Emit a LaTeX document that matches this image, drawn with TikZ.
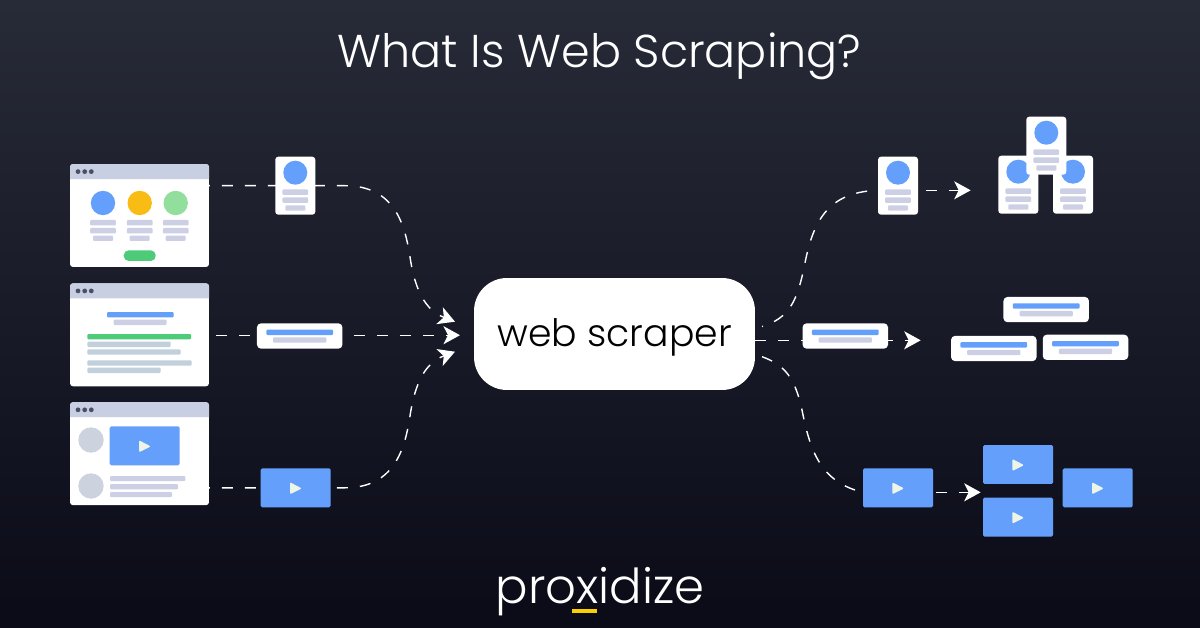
\documentclass[tikz,border=0pt]{standalone}
\usepackage{fontspec}
\setmainfont{Poppins}
\newfontfamily\lightfont{Poppins Light}
\usetikzlibrary{arrows.meta,backgrounds}
\definecolor{bgtop}{HTML}{272A37}
\definecolor{bgbottom}{HTML}{0B0B18}
\definecolor{webblue}{HTML}{64A0FB}
\definecolor{webyellow}{HTML}{F9BC15}
\definecolor{webgreen}{HTML}{4ECB78}
\definecolor{palegreen}{HTML}{92DE9C}
\definecolor{barblue}{HTML}{C9CFE2}
\definecolor{bargrey}{HTML}{CDD0E4}
\definecolor{linegrey}{HTML}{C1D0DB}
\definecolor{avatargrey}{HTML}{CDD3DE}
\definecolor{dotgrey}{HTML}{4A4F66}
\definecolor{playwhite}{HTML}{EEF5E6}
\definecolor{logoyellow}{HTML}{FCD000}

\begin{document}
\begin{tikzpicture}[x=0.02cm,y=-0.02cm]
\tikzset{webwindow/.style={
		inner sep=0pt,
		outer sep=0pt,
		minimum width=2.78cm,
		minimum height=2.06cm,
		fill=white,
		rounded corners=0.06cm
	},
	profilecard/.style={webwindow,minimum width=0.8cm,minimum height=1.16cm},
	textcard/.style={webwindow,minimum width=1.71cm,minimum height=0.506cm,rounded corners=0.08cm},
	videocard/.style={webwindow,minimum width=1.4cm,minimum height=0.78cm,fill=webblue,rounded corners=0.03cm},
	hubbox/.style={webwindow,minimum width=5.62cm,minimum height=2.24cm,rounded corners=0.66cm},
	bar/.style={rounded corners=0.02cm},
	flow/.style={draw=white,line width=0.028cm,dash pattern=on 0.22cm off 0.24cm},
	flowtip/.style={flow,-{Stealth[length=0.33cm,width=0.36cm,inset=0.09cm]}},
	profilebits/.pic={
		\fill[webblue] (0,-13) circle (12);
		\fill[bargrey,bar] (-12.9,3.8) rectangle (12.9,9.2);
		\fill[bargrey,bar] (-12.9,11.8) rectangle (12.9,17.2);
		\fill[bargrey,bar] (-10,19.6) rectangle (10,25);
	},
	textbits/.pic={
		\fill[webblue,bar] (-33.4,-6.3) rectangle (33.4,-1);
		\fill[bargrey,bar] (-26.6,1.3) rectangle (26.6,6.7);
	},
	playbits/.pic={
		\fill[playwhite,draw=playwhite,line width=0.03cm,line join=round] (-4.8,-4.2) -- (4.4,0.6) -- (-4.8,5.2) -- cycle;
	},
	winbits/.pic={
		\fill[barblue] (0,15) [rounded corners=0.06cm] -- (0,0) -- (139,0) [sharp corners] -- (139,15) -- cycle;
		\foreach \dotx in {8,14.7,21.3}
			\fill[dotgrey] (\dotx,7.6) circle (2.4);
	}
}
% browser windows
\node[webwindow] (winA) at (139.5,215.5) {};
\node[webwindow] (winB) at (139.5,334.8) {};
\node[webwindow] (winC) at (139.5,453.7) {};
\pic at (winA.north west) {winbits};
\pic at (winB.north west) {winbits};
\pic at (winC.north west) {winbits};
% first window
\foreach \colx/\col in {103/webblue,139.7/webyellow,175.7/palegreen}{
	\fill[\col] (\colx,203) circle (12.2);
	\fill[bargrey,bar] (\colx-12.9,220) rectangle (\colx+12.9,225.4);
	\fill[bargrey,bar] (\colx-12.9,228) rectangle (\colx+12.9,233.4);
	\fill[bargrey,bar] (\colx-10,235.6) rectangle (\colx+10,241);
}
\fill[webgreen,rounded corners=0.1cm] (123.7,250.3) rectangle (155.7,261);
% second window
\fill[webblue,bar] (107,312) rectangle (173.7,317.3);
\fill[bargrey,bar] (113.7,319.7) rectangle (166.7,325);
\fill[webgreen,bar] (87.3,334) rectangle (191,339.3);
\fill[linegrey,bar] (87.3,341.7) rectangle (170.7,347);
\fill[linegrey,bar] (87.3,349.3) rectangle (180.7,354.7);
\fill[linegrey,bar] (87.3,360.3) rectangle (191.7,365.7);
\fill[linegrey,bar] (87.3,367.7) rectangle (160.7,373);
% third window
\fill[avatargrey] (91,440) circle (12.7);
\fill[avatargrey] (91,486) circle (12.7);
\fill[bargrey,bar] (110,476) rectangle (185.3,481);
\fill[bargrey,bar] (110,484) rectangle (178,489.3);
\fill[bargrey,bar] (110,492) rectangle (172,497);
% cards, left to right
\foreach \cardname/\cardx/\cardy in {profileL/295.3/185.7,profileR/898/185.7,profileA/1018.3/184.7,profileB/1073/184.7,profileC/1046.3/145.7}{
	\node[profilecard] (\cardname) at (\cardx,\cardy) {};
	\pic at (\cardname) {profilebits};
}
\foreach \cardname/\cardx/\cardy in {textL/299.7/336,textR/845.3/336,textA/1046.2/309.6,textB/993.8/348.5,textC/1085.5/347.3}{
	\node[textcard] (\cardname) at (\cardx,\cardy) {};
	\pic at (\cardname) {textbits};
}
\foreach \cardname/\cardx/\cardy in {videoW/144.7/445.8,videoL/295.7/487.8,videoR/898/487.8,videoA/1018/464.5,videoB/1018/517.2,videoC/1097.7/487.8}{
	\node[videocard] (\cardname) at (\cardx,\cardy) {};
	\pic at (\cardname) {playbits};
}
\node[hubbox] (hub) at (614.5,334) {\lightfont\fontsize{21.5}{24}\selectfont\color{black}\raisebox{-7.2pt}[0pt][0pt]{web scraper}};
\node[inner sep=0pt] (title) at (599.5,56.5) {\lightfont\fontsize{26.2}{30}\selectfont\color{white} What Is Web Scraping?};
\node[inner sep=0pt] (logo) at (600,592) {\fontsize{27.4}{30}\selectfont\lightfont\color{white} proxidize};
\node[fill=logoyellow,inner sep=0pt,minimum width=0.506cm,minimum height=0.074cm] (logobar) at (584.3,611.2) {};
% connectors stay behind the cards
\coordinate (inA) at (455,321.7);
\coordinate (inB) at (460,335.2);
\coordinate (inC) at (455,351.7);
\coordinate (outA) at (762,326.5);
\coordinate (outB) at (755,340.3);
\coordinate (outC) at (762,356.7);
\coordinate (tipA) at (970.7,190.3);
\coordinate (tipB) at (920.7,340.3);
\coordinate (tipC) at (980.7,492.3);
\begin{scope}[on background layer]
\shade[top color=bgtop,bottom color=bgbottom] (0,0) rectangle (1200,628);
\draw[flowtip,dash phase=0.2cm] (winA.east |- profileL) -- (345,185.7) .. controls (395,185.7) and (405,225) .. (410,257) .. controls (415,290) and (425,310) .. (inA);
\draw[flowtip,dash phase=0.32cm] (winB.east |- inB) -- (inB);
\draw[flowtip,dash phase=0.2cm] (winC.east |- videoL) -- (345,487.8) .. controls (395,487.8) and (405,448) .. (410,416) .. controls (415,383) and (425,363) .. (inC);
\draw[flow,dash phase=0.2cm] (outA) .. controls (790,318) and (797,300) .. (804,268) .. controls (812,225) and (825,192) .. (tipA -| profileR.west);
\draw[flowtip,dash phase=0.3cm] (tipA -| profileR.east) -- (tipA);
\draw[flow] (outB) -- (outB -| textR.west);
\draw[flowtip,dash phase=0.12cm] (tipB -| textR.east) -- (tipB);
\draw[flow] (outC) .. controls (785,365) and (795,378) .. (802,410) .. controls (810,450) and (820,482) .. (tipC -| videoR.west);
\draw[flowtip,dash phase=0.4cm] (tipC -| videoR.east) -- (tipC);
\end{scope}
\end{tikzpicture}
\end{document}
